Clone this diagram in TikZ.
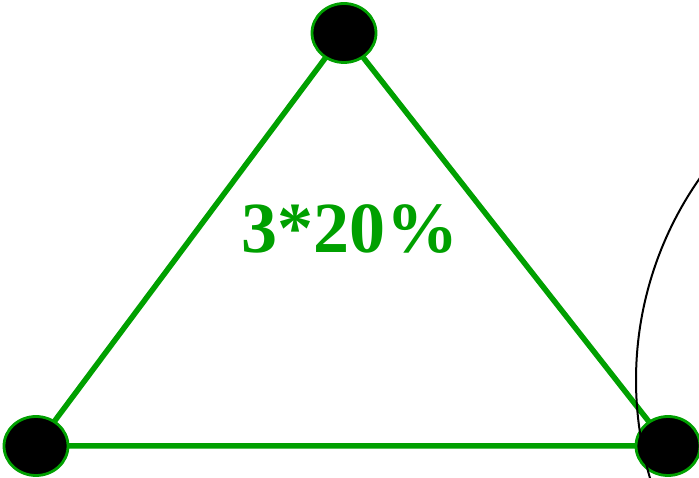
\documentclass[tikz,border=0pt]{standalone}
\usepackage{fontspec}
\setmainfont{Liberation Serif}
\usetikzlibrary{shapes.geometric}
\definecolor{tgreen}{HTML}{00A000}
\begin{document}
\begin{tikzpicture}[x=1pt,y=1pt,
  vertex/.style={ellipse,fill=black,draw=tgreen,line width=2.8pt,minimum width=64pt,minimum height=59pt,inner sep=0pt},
  edge/.style={draw=tgreen,line width=5.5pt},
  lbl/.style={text=tgreen,font=\fontsize{72}{72}\selectfont\bfseries,anchor=base,inner sep=0pt}]
\useasboundingbox (0,0) rectangle (699,478);
\begin{scope}
\clip (0,0) rectangle (699,478);
\node[lbl] (t) at (350,225) {3*20\kern2pt\%};
\path[edge] (344,445) -- (36,32) -- (668,32) -- cycle;
\node[vertex] (top) at (344,445) {};
\node[vertex] (bl) at (36,32) {};
\node[vertex] (br) at (668,32) {};
\draw[black,line width=2pt] (987,98) ++(140:351) arc[start angle=140,end angle=200,radius=351];
\end{scope}
\end{tikzpicture}
\end{document}
